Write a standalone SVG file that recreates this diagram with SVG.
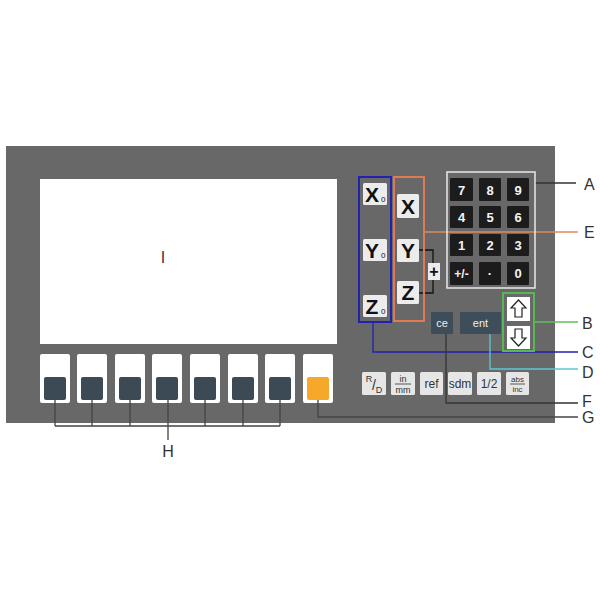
<svg xmlns="http://www.w3.org/2000/svg" width="600" height="600" viewBox="0 0 600 600">
<style>
text{font-family:"Liberation Sans",Arial,sans-serif}
.lbl{font-size:16px;fill:#333}
.soft{fill:#fff}
.sq{fill:#3c4a55}
.axk{fill:#ececec}
.axt{font-size:21px;font-weight:bold;fill:#111;text-anchor:middle}
.sub{font-size:8px;fill:#111}
.num{fill:#1c1c1c}
.numt{font-size:13px;font-weight:bold;fill:#f4f4f4;text-anchor:middle}
.fk{fill:#e6e6e6}
.fkt{font-size:12px;fill:#333;text-anchor:middle}
.fks{font-size:8px;fill:#333;text-anchor:middle}
.dk{fill:#3d4e5a}
.dkt{font-size:11px;fill:#eee;text-anchor:middle}
.ln{fill:none;stroke-width:1.3}
</style>
<rect width="600" height="600" fill="#fff"/>
<g id="panel">
<rect x="6" y="146" width="549" height="277" fill="#686868"/>
</g>
<g id="display">
<rect x="40" y="179" width="297" height="165" fill="#fff"/>
<text x="163" y="263" class="lbl" text-anchor="middle">I</text>
</g>
<g id="softkeys">
<rect x="40" y="354" width="30" height="49" rx="2" class="soft"/><rect x="44" y="377" width="22" height="23" rx="2" class="sq"/>
<rect x="77" y="354" width="30" height="49" rx="2" class="soft"/><rect x="81" y="377" width="22" height="23" rx="2" class="sq"/>
<rect x="115" y="354" width="30" height="49" rx="2" class="soft"/><rect x="119" y="377" width="22" height="23" rx="2" class="sq"/>
<rect x="152" y="354" width="30" height="49" rx="2" class="soft"/><rect x="156" y="377" width="22" height="23" rx="2" class="sq"/>
<rect x="190" y="354" width="30" height="49" rx="2" class="soft"/><rect x="194" y="377" width="22" height="23" rx="2" class="sq"/>
<rect x="228" y="354" width="30" height="49" rx="2" class="soft"/><rect x="232" y="377" width="22" height="23" rx="2" class="sq"/>
<rect x="265" y="354" width="30" height="49" rx="2" class="soft"/><rect x="269" y="377" width="22" height="23" rx="2" class="sq"/>
<rect x="303" y="354" width="30" height="49" rx="2" class="soft"/><rect x="307" y="377" width="22" height="23" rx="2" fill="#f5a82a"/>
</g>
<g id="connectors">
<path class="ln" stroke="#444" d="M55 400V426M92 400V426M130 400V426M205 400V426M243 400V426M280 400V426M55 426H280M168 400V440"/>
<path class="ln" stroke="#444" d="M318 400V417H578"/>
<path class="ln" stroke="#333" d="M535 183H576"/>
<path class="ln" stroke="#e08a5a" d="M424 232H578"/>
<path class="ln" stroke="#5cc05c" d="M534 322H578"/>
<path class="ln" stroke="#2020b0" stroke-width="2" d="M373 322V352H578"/>
<path class="ln" stroke="#5cc8d4" d="M490 334V369H578"/>
<path class="ln" stroke="#333" d="M446 334V403H578"/>
<path class="ln" stroke="#111" stroke-width="1.5" d="M419 250H433V293H419"/>
</g>
<g id="zero-keys">
<rect x="359" y="177" width="32" height="145" fill="none" stroke="#2222b0" stroke-width="2"/>
<rect x="363" y="183" width="24" height="22" rx="1.5" class="axk"/><text x="372" y="202" class="axt">X</text><text x="381" y="202" class="sub">0</text>
<rect x="363" y="239" width="24" height="22" rx="1.5" class="axk"/><text x="372" y="258" class="axt">Y</text><text x="381" y="258" class="sub">0</text>
<rect x="363" y="295" width="24" height="22" rx="1.5" class="axk"/><text x="372" y="314" class="axt">Z</text><text x="381" y="314" class="sub">0</text>
</g>
<g id="axis-keys">
<rect x="394" y="177" width="30" height="144" fill="none" stroke="#e07a55" stroke-width="2"/>
<rect x="397" y="194" width="22" height="24" rx="1.5" class="axk"/><text x="408" y="214" class="axt">X</text>
<rect x="397" y="239" width="22" height="23" rx="1.5" class="axk"/><text x="408" y="258" class="axt">Y</text>
<rect x="397" y="281" width="22" height="23" rx="1.5" class="axk"/><text x="408" y="300" class="axt">Z</text>
<rect x="428" y="263" width="12" height="17" class="axk"/><text x="434" y="277" class="axt" style="font-size:16px">+</text>
</g>
<g id="numpad">
<rect x="447" y="172" width="88" height="116" fill="none" stroke="#e8e8e8" stroke-width="1.5"/>
<rect x="450" y="178" width="23" height="23" rx="1" class="num"/><text x="461.5" y="194.5" class="numt">7</text>
<rect x="479" y="178" width="22" height="23" rx="1" class="num"/><text x="490" y="194.5" class="numt">8</text>
<rect x="507" y="178" width="22" height="23" rx="1" class="num"/><text x="518" y="194.5" class="numt">9</text>
<rect x="450" y="206" width="23" height="22" rx="1" class="num"/><text x="461.5" y="222" class="numt">4</text>
<rect x="479" y="206" width="22" height="22" rx="1" class="num"/><text x="490" y="222" class="numt">5</text>
<rect x="507" y="206" width="22" height="22" rx="1" class="num"/><text x="518" y="222" class="numt">6</text>
<rect x="450" y="234" width="23" height="22" rx="1" class="num"/><text x="461.5" y="250" class="numt">1</text>
<rect x="479" y="234" width="22" height="22" rx="1" class="num"/><text x="490" y="250" class="numt">2</text>
<rect x="507" y="234" width="22" height="22" rx="1" class="num"/><text x="518" y="250" class="numt">3</text>
<rect x="450" y="262" width="23" height="23" rx="1" class="num"/><text x="461.5" y="278" class="numt" style="font-size:12px">+/-</text>
<rect x="479" y="262" width="22" height="23" rx="1" class="num"/><text x="490" y="278" class="numt">·</text>
<rect x="507" y="262" width="22" height="23" rx="1" class="num"/><text x="518" y="278" class="numt">0</text>
</g>
<g id="arrow-keys">
<rect x="503" y="293" width="31" height="58" fill="none" stroke="#55b855" stroke-width="2"/>
<rect x="507" y="297" width="23" height="24" fill="#fff"/>
<path d="M518.5 300L526 308H522V317H515V308H511Z" fill="none" stroke="#222" stroke-width="1.2"/>
<rect x="507" y="326" width="23" height="23" fill="#fff"/>
<path d="M518.5 346L526 338H522V329H515V338H511Z" fill="none" stroke="#222" stroke-width="1.2"/>
</g>
<g id="ce-ent">
<rect x="431" y="312" width="22" height="22" rx="1" class="dk"/><text x="442" y="327" class="dkt">ce</text>
<rect x="460" y="312" width="41" height="22" rx="1" class="dk"/><text x="480.5" y="327" class="dkt">ent</text>
</g>
<g id="function-keys">
<rect x="362" y="372" width="24" height="23" rx="1.5" class="fk"/>
<text x="369" y="382" class="fks" style="font-size:9px">R</text><text x="374" y="390" class="fkt" style="font-size:14px">/</text><text x="379" y="393" class="fks" style="font-size:9px">D</text>
<rect x="391" y="372" width="24" height="23" rx="1.5" class="fk"/>
<text x="403" y="382" class="fks" style="font-size:9px">in</text><line x1="395" y1="384" x2="411" y2="384" stroke="#333" stroke-width="0.8"/><text x="403" y="392.5" class="fks" style="font-size:9px">mm</text>
<rect x="420" y="372" width="23" height="23" rx="1.5" class="fk"/><text x="431.5" y="388" class="fkt">ref</text>
<rect x="448" y="372" width="24" height="23" rx="1.5" class="fk"/><text x="460" y="388" class="fkt">sdm</text>
<rect x="477" y="372" width="24" height="23" rx="1.5" class="fk"/><text x="489" y="388" class="fkt">1/2</text>
<rect x="506" y="372" width="23" height="23" rx="1.5" class="fk"/>
<text x="517.5" y="382" class="fks">abs</text><line x1="510" y1="384" x2="525" y2="384" stroke="#333" stroke-width="0.8"/><text x="517.5" y="392" class="fks">inc</text>
</g>
<g id="labels">
<text x="584" y="190" class="lbl">A</text>
<text x="584" y="238" class="lbl">E</text>
<text x="582" y="329" class="lbl">B</text>
<text x="582" y="358" class="lbl">C</text>
<text x="582" y="378" class="lbl">D</text>
<text x="582" y="407" class="lbl">F</text>
<text x="582" y="423" class="lbl">G</text>
<text x="168" y="457" class="lbl" text-anchor="middle">H</text>
</g>
</svg>
